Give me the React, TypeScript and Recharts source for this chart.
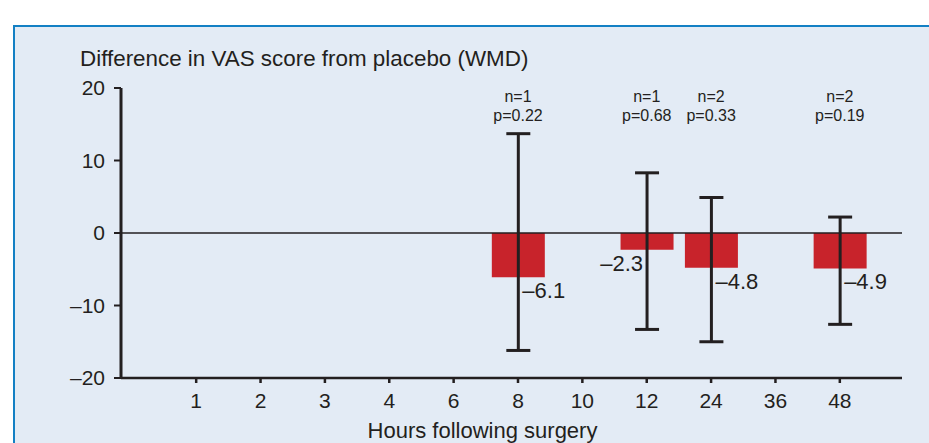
import React from "react"
import { Bar, BarChart, ErrorBar, LabelList, ReferenceDot, ReferenceLine, XAxis, YAxis } from "recharts"

// hours after surgery (categorical axis)
const hours = ["1", "2", "3", "4", "6", "8", "10", "12", "24", "36", "48"]
// weighted mean difference vs placebo
const wmd = [null, null, null, null, null, -6.1, null, -2.3, -4.8, null, -4.9]
// 95% CI bounds
const ciLower = [null, null, null, null, null, -16.2, null, -13.3, -15.0, null, -12.6]
const ciUpper = [null, null, null, null, null, 13.7, null, 8.3, 4.9, null, 2.2]
const studies = [null, null, null, null, null, 1, null, 1, 2, null, 2]
const pValues = [null, null, null, null, null, "0.22", null, "0.68", "0.33", null, "0.19"]
const yTicks = [-20, -10, 0, 10, 20]

const INK = "#231f20"
const RED = "#c8232b"
const FONT = '"Liberation Sans", Arial, Helvetica, sans-serif'

const data = hours.map((h, i) => ({
  hour: h,
  wmd: wmd[i],
  ci: wmd[i] == null ? undefined : [(wmd[i] as number) - (ciLower[i] as number), (ciUpper[i] as number) - (wmd[i] as number)],
}))

const dash = (v: number) => (v < 0 ? `\u2013${Math.abs(v)}` : `${v}`)

// value labels sit just under the bar, beside the error bar
const leftLabels = new Set(["12"])
const renderValue = (props: any) => {
  const vb = props.viewBox ?? props
  const { x, y, width, height } = vb
  const value = props.value
  if (value == null || x == null) return null
  const cx = x + width / 2
  const bottom = Math.max(y, y + height)
  const left = leftLabels.has(hours[wmd.indexOf(value)])
  return (
    <text
      x={left ? cx - 4 : cx + 4}
      y={bottom + 13}
      dy="0.36em"
      textAnchor={left ? "end" : "start"}
      fontSize={22}
      fontFamily={FONT}
      fill={INK}
    >
      {dash(value)}
    </text>
  )
}

const annotation = (n: number, p: string) => (props: any) => {
  const { x, y } = props.viewBox
  return (
    <text textAnchor="middle" fontSize={16} fontFamily={FONT} fill={INK}>
      <tspan x={x} y={y + 14}>n={n}</tspan>
      <tspan x={x} y={y + 33}>p={p}</tspan>
    </text>
  )
}

export default function App() {
  return (
    <div style={{ position: "absolute", left: 0, top: 0, width: 929, height: 443, overflow: "hidden", background: "#fff", fontFamily: FONT }}>
      <div
        style={{
          position: "absolute",
          left: 13,
          top: 25,
          width: 940,
          height: 440,
          background: "#e3ebf5",
          border: "2px solid #1380c4",
        }}
      />
      <svg width={929} height={443} style={{ position: "absolute", left: 0, top: 0 }}>
        <text x={80} y={66} fontSize={22.4} fontFamily={FONT} fill={INK}>
          Difference in VAS score from placebo (WMD)
        </text>
      </svg>
      <div style={{ position: "absolute", left: 0, top: 0 }}>
        <BarChart width={929} height={443} data={data} margin={{ top: 88, right: 27, bottom: 0, left: 0 }}>
          <XAxis
            dataKey="hour"
            type="category"
            interval={0}
            height={65}
            padding={{ left: 43, right: 30 }}
            tickSize={5}
            tickMargin={10}
            axisLine={{ stroke: INK, strokeWidth: 2.5 }}
            tickLine={{ stroke: INK, strokeWidth: 2.5 }}
            tick={{ fontSize: 21, fill: INK, fontFamily: FONT }}
            label={{ value: "Hours following surgery", position: "insideBottom", offset: 5, dx: -29, fontSize: 22, fill: INK, fontFamily: FONT }}
          />
          <YAxis
            width={121}
            domain={[-20, 20]}
            ticks={yTicks}
            allowDataOverflow
            tickSize={7}
            tickMargin={9}
            tickFormatter={dash}
            axisLine={{ stroke: INK, strokeWidth: 3 }}
            tickLine={{ stroke: INK, strokeWidth: 2 }}
            tick={{ fontSize: 21, fill: INK, fontFamily: FONT }}
          />
          <ReferenceLine y={0} stroke={INK} strokeWidth={1.5} />
          <Bar dataKey="wmd" fill={RED} barSize={53} isAnimationActive={false}>
            <ErrorBar dataKey="ci" direction="y" width={12} stroke={INK} strokeWidth={3} />
            <LabelList dataKey="wmd" content={renderValue} />
          </Bar>
          {hours.map((h, i) =>
            studies[i] == null ? null : (
              <ReferenceDot
                key={h}
                x={h}
                y={20}
                r={0}
                fill="none"
                stroke="none"
                ifOverflow="visible"
                label={{ content: annotation(studies[i] as number, pValues[i] as string) }}
              />
            )
          )}
        </BarChart>
      </div>
    </div>
  )
}
